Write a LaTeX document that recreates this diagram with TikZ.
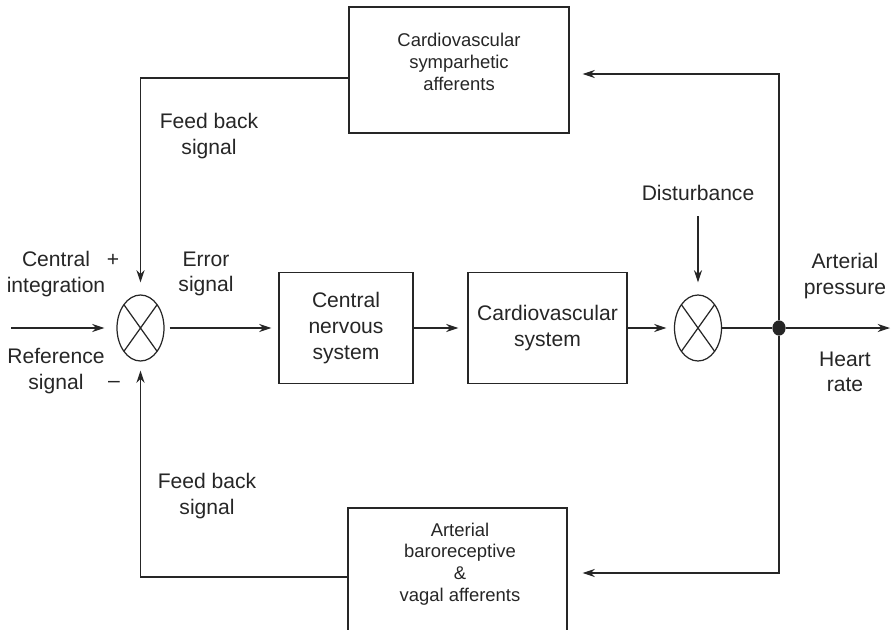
\documentclass[tikz,border=0pt]{standalone}
\usepackage{fontspec}
\setmainfont{Liberation Sans}
\usetikzlibrary{shapes.geometric}
\usetikzlibrary{arrows.meta}
\usetikzlibrary{calc}
\colorlet{ink}{black!85}

\begin{document}
\begin{tikzpicture}[x=0.02cm,y=-0.02cm,color=ink,line width=0.7pt]
  \tikzset{block/.style={draw=ink,inner sep=0pt,font=\fontsize{12}{14.6}\selectfont,align=center}}
  \tikzset{smallblock/.style={draw=ink,inner sep=0pt}}
  \tikzset{boxtext/.style={inner sep=0pt,font=\fontsize{10.5}{12.3}\selectfont,align=center}}
  \tikzset{plaintext/.style={inner sep=0pt,font=\fontsize{12}{14.6}\selectfont,align=center}}
  \tikzset{summer/.style={draw=ink,ellipse,inner sep=0pt,minimum width=0.94cm,minimum height=1.32cm,
      path picture={\draw (path picture bounding box.north west) -- (path picture bounding box.south east)
                          (path picture bounding box.north east) -- (path picture bounding box.south west);}}}
  \tikzset{arr/.style={-{Stealth[length=7pt,width=4.6pt]}}}

  \useasboundingbox (0,0) rectangle (892,629);
  \clip (0,0) rectangle (892,629);

  % forward path
  \node[summer] (s1) at (140.5,328) {};
  \node[block,minimum width=2.68cm,minimum height=2.22cm] (cns) at (346,328) {Central\\nervous\\system};
  \node[block,minimum width=3.18cm,minimum height=2.22cm] (cvs) at (547.5,328) {Cardiovascular\\system};
  \node[summer] (s2) at (698,328) {};
  \node[draw=ink,fill=ink,ellipse,inner sep=0pt,minimum width=0.24cm,minimum height=0.28cm] (dot) at (779,328) {};
  \coordinate (in) at (11,328);
  \coordinate (out) at (890,328);

  % feedback blocks
  \node[smallblock,minimum width=4.4cm,minimum height=2.52cm] (symp) at (459,70) {};
  \node[boxtext] (symptext) at (459,62) {Cardiovascular\\symparhetic\\afferents};
  \node[smallblock,minimum width=4.38cm,minimum height=2.76cm] (baro) at (457.5,577) {};
  \node[boxtext] (barotext) at (460,564) {Arterial\\baroreceptive\\\&\\vagal afferents};
  \coordinate (ctop) at (779,74);
  \coordinate (cbot) at (779,573);

  % labels
  \node[plaintext] (cent) at (56,274) {Central\\integration};
  \node[plaintext] (plus) at (113,260) {+};
  \node[plaintext] (ref) at (56,371) {Reference\\signal};
  \node[plaintext] (minus) at (114,384) {--};
  \node[plaintext] (err) at (206,274) {Error\\signal};
  \node[plaintext] (fbtop) at (209,136) {Feed back\\signal};
  \node[plaintext] (fbbot) at (207,496) {Feed back\\signal};
  \node[plaintext] (dist) at (698,193) {Disturbance};
  \node[plaintext] (press) at (845,276) {Arterial\\pressure};
  \node[plaintext] (rate) at (845,372) {Heart\\rate};

  \draw[arr,shorten >=0.24cm] (in) -- (s1);
  \draw[arr,shorten <=0.1cm,shorten >=0.14cm] (s1) -- (cns);
  \draw[arr,shorten >=0.18cm] (cns) -- (cvs);
  \draw[arr,shorten >=0.15cm] (cvs) -- (s2);
  \draw (s2) -- (dot);
  \draw[arr] (dot) -- (out);
  \draw[arr,shorten <=0.3cm,shorten >=0.24cm] (dist.south) -- (s2);

  \draw[arr,shorten >=0.26cm] (dot) -- (ctop) -- (ctop -| symp.east);
  \draw[arr,shorten >=0.3cm] (dot) -- (cbot) -- (cbot -| baro.east);
  \draw[arr,shorten >=0.24cm] ($(symp.west)+(0,8)$) -| (s1);
  \draw[arr,shorten >=0.18cm] (baro.west) -| (s1);
\end{tikzpicture}
\end{document}
